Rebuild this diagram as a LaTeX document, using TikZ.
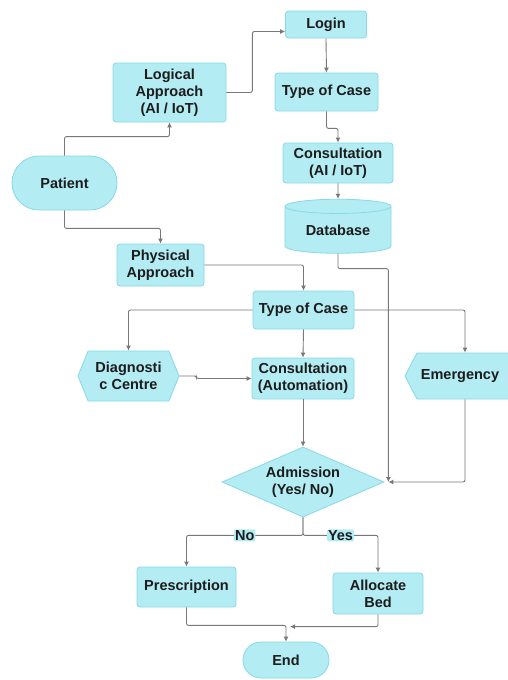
\documentclass[tikz,border=0pt]{standalone}
\usepackage{fontspec}
\setmainfont{Liberation Sans}
\usetikzlibrary{arrows.meta, shapes.geometric, shapes.symbols}

\definecolor{boxfill}{HTML}{B4ECF3}
\definecolor{boxline}{HTML}{86D9E6}
\definecolor{wire}{HTML}{787878}
\definecolor{ink}{HTML}{1C1C1C}

\tikzset{
  base/.style={draw=boxline, fill=boxfill, line width=0.8pt, inner sep=0pt, align=center, text=ink,
    font=\bfseries\fontsize{14.5}{17}\selectfont},
  box/.style={base, rectangle, rounded corners=3pt},
  term/.style={base, rectangle, rounded corners=#1},
  hexa/.style={base, signal, signal to=east and west, signal pointer angle=136},
  flow/.style={draw=wire, line width=0.9pt, rounded corners=2pt, -{Latex[length=5pt,width=5pt]}},
  tag/.style={fill=boxfill, inner sep=1pt, text=ink, font=\bfseries\fontsize{14.5}{17}\selectfont}
}

\begin{document}
\begin{tikzpicture}[x=1pt, y=-1pt]
\useasboundingbox (0,0) rectangle (508,680);

\node[box, minimum width=81pt, minimum height=27pt] (login) at (326,24.5) {Login};
\node[box, minimum width=103pt, minimum height=38pt] (toc1) at (326.5,92) {Type of Case};
\node[box, minimum width=110pt, minimum height=40pt] (cons1) at (338,163) {Consultation\\(AI / IoT)};
\node[base, cylinder, shape border rotate=90, aspect=0.22, minimum width=106pt, minimum height=54pt] (db) at (338,230) {\raisebox{-6pt}{Database}};
\node[box, minimum width=113pt, minimum height=59pt] (logical) at (169.5,92.5) {Logical\\Approach\\(AI / IoT)};
\node[term=27pt, minimum width=105pt, minimum height=54pt] (patient) at (64.5,183) {Patient};
\node[box, minimum width=87pt, minimum height=42pt] (physical) at (160.5,265) {Physical\\Approach};
\node[box, minimum width=101pt, minimum height=38pt] (toc2) at (303.5,310) {Type of Case};
\node[box, minimum width=102pt, minimum height=41pt] (cons2) at (303,378.5) {Consultation\\(Automation)};
\node[hexa, minimum width=101pt, minimum height=50pt] (diag) at (128.5,376) {Diagnosti\\c Centre};
\node[base, signal, signal to=west, signal pointer angle=125, minimum width=108pt, minimum height=46pt] (emer) at (465,376) {Emergency\hspace{10pt}};
\node[base, diamond, aspect=2.3, minimum width=162pt, minimum height=70pt] (adm) at (303,482) {Admission\\(Yes/ No)};
\node[box, minimum width=99pt, minimum height=40pt] (presc) at (186.5,587) {Prescription};
\node[box, minimum width=90pt, minimum height=41pt] (alloc) at (378,593.5) {Allocate\\Bed};
\node[term=18pt, minimum width=86pt, minimum height=36pt] (endn) at (286,660) {End};

\draw[flow] (patient.north) -- ++(0,-19) -| (logical.south);
\draw[flow] (patient.south) -- ++(0,18) -| (physical.north);
\draw[flow] (logical.east) -- ++(26,0) |- ([yshift=-7pt]login.west);
\draw[flow] (login.south) -- (toc1.north);
\draw[flow] (toc1.south) -- ++(0,17) -| (cons1.north);
\draw[flow] (cons1.south) -- (db.north);
\draw[flow] (db.south) -- ++(0,15) -| ([xshift=4pt]adm.east);
\draw[flow] (physical.east) -| (toc2.north);
\draw[flow] (toc2.west) -| (diag.north);
\draw[flow] (toc2.east) -| (emer.north);
\draw[flow] (toc2.south) -- (cons2.north);
\draw[flow] (diag.east) -- ++(17,0) |- (cons2.west);
\draw[flow] (cons2.south) -- (adm.north);
\draw[flow] (emer.south) |- ([xshift=4pt]adm.east);
\draw[flow] (adm.south) -- ++(0,18) -| node[tag, pos=0.25] {No} (presc.north);
\draw[flow] (adm.south) -- ++(0,18) -| node[tag, pos=0.25] {Yes} (alloc.north);
\draw[flow] (presc.south) -- ++(0,18) -| (endn.north);
\draw[flow] (alloc.south) |- ([xshift=4pt,yshift=15pt]endn.north);
\end{tikzpicture}
\end{document}
